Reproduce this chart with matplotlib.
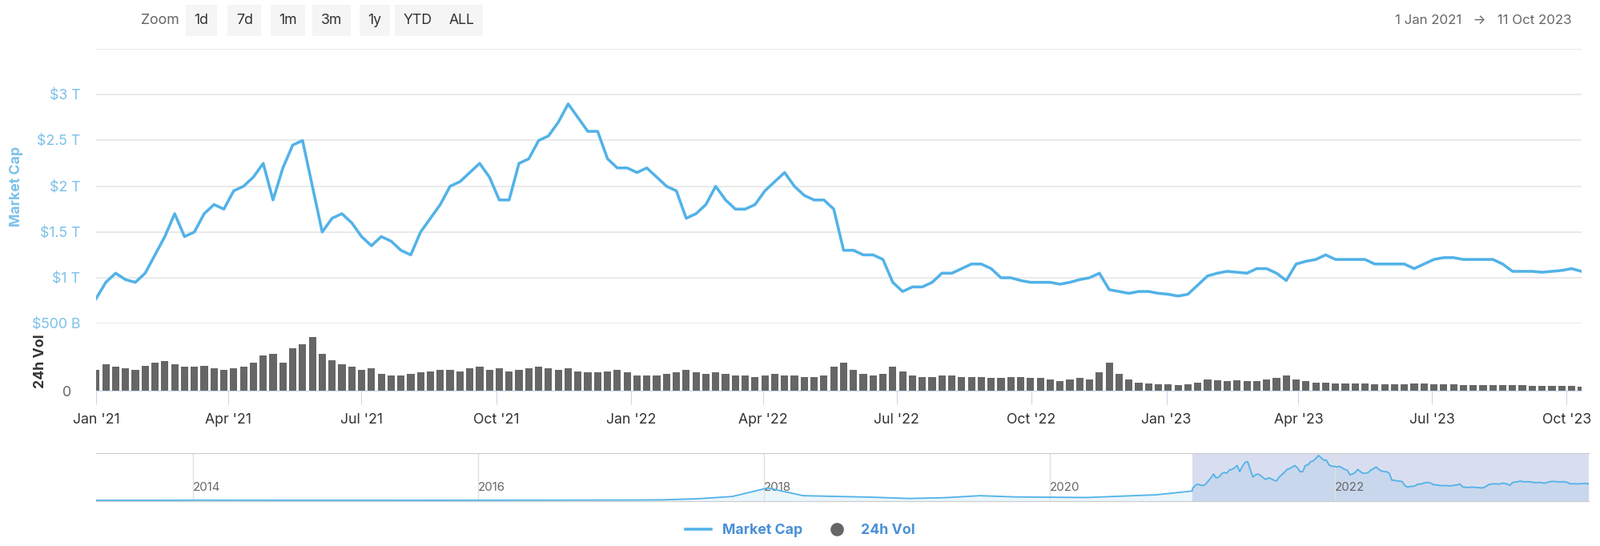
import numpy as np
import pandas as pd
import matplotlib.pyplot as plt
import matplotlib.dates as mdates
from matplotlib.lines import Line2D

plt.rcParams['font.family'] = 'Inter'

# weekly market cap, trillions USD (1 Jan 2021 .. 11 Oct 2023)
mcap = [0.77, 0.95, 1.05, 0.98, 0.95,
        1.05, 1.25, 1.45, 1.70, 1.45,
        1.50, 1.70, 1.80, 1.75, 1.95,
        2.00, 2.10, 2.25, 1.85, 2.20,
        2.45, 2.50, 2.00, 1.50, 1.65,
        1.70, 1.60, 1.45, 1.35,
        1.45, 1.40, 1.30, 1.25, 1.50,
        1.65, 1.80, 2.00, 2.05,
        2.15, 2.25, 2.10, 1.85, 1.85,
        2.25, 2.30, 2.50, 2.55,
        2.70, 2.90, 2.75, 2.60, 2.60,
        2.30, 2.20, 2.20, 2.15, 2.20,
        2.10, 2.00, 1.95, 1.65, 1.70,
        1.80, 2.00, 1.85, 1.75,
        1.75, 1.80, 1.95, 2.05, 2.15,
        2.00, 1.90, 1.85, 1.85,
        1.75, 1.30, 1.30, 1.25, 1.25,
        1.20, 0.95, 0.85, 0.90,
        0.90, 0.95, 1.05, 1.05, 1.10,
        1.15, 1.15, 1.10, 1.00,
        1.00, 0.97, 0.95, 0.95,
        0.95, 0.93, 0.95, 0.98, 1.00,
        1.05, 0.87, 0.85, 0.83,
        0.85, 0.85, 0.83, 0.82, 0.80,
        0.82, 0.92, 1.02, 1.05, 1.07,
        1.06, 1.05, 1.10, 1.10,
        1.05, 0.97, 1.15, 1.18,
        1.20, 1.25, 1.20, 1.20, 1.20,
        1.20, 1.15, 1.15, 1.15,
        1.15, 1.10, 1.15, 1.20,
        1.22, 1.22, 1.20, 1.20, 1.20,
        1.20, 1.15, 1.07, 1.07,
        1.07, 1.06, 1.07, 1.08,
        1.10, 1.07]

# weekly 24h volume, billions USD
vol = [150, 190, 170, 160, 150,
       180, 200, 210, 190, 170,
       170, 180, 160, 150, 160,
       170, 200, 250, 260, 200,
       300, 330, 380, 260, 220,
       190, 170, 150, 160,
       120, 110, 110, 120, 130,
       140, 150, 150, 140,
       160, 170, 150, 160, 140,
       150, 160, 170, 160,
       150, 160, 140, 130, 130,
       140, 150, 130, 110, 110,
       110, 120, 130, 150, 130,
       120, 130, 120, 110,
       110, 100, 110, 120, 110,
       110, 100, 100, 110,
       170, 200, 150, 120, 110,
       120, 170, 140, 110,
       100, 100, 110, 110, 100,
       100, 100, 90, 90,
       100, 100, 90, 90,
       80, 70, 80, 90, 80,
       130, 200, 120, 80,
       60, 50, 45, 45, 40,
       45, 60, 80, 75, 70,
       75, 70, 70, 80,
       90, 110, 80, 70,
       60, 60, 55, 55, 50,
       50, 45, 45, 45,
       45, 50, 50, 45,
       45, 45, 40, 40, 40,
       40, 40, 40, 40,
       35, 35, 35, 35,
       35, 30]

# quarterly history for navigator (trillions)
hist_dates = pd.date_range('2013-04-28', '2020-12-31', periods=32)
hist_mcap = [0.0015, 0.001, 0.002, 0.01, 0.006, 0.008, 0.005, 0.004,
             0.0035, 0.004, 0.004, 0.007, 0.008, 0.011, 0.012, 0.018,
             0.03, 0.10, 0.25, 0.80, 0.30, 0.25, 0.20, 0.12,
             0.17, 0.30, 0.22, 0.20, 0.18, 0.27, 0.36, 0.60]

dates = pd.date_range('2021-01-01', '2023-10-11', periods=len(mcap))
vdates = pd.date_range('2021-01-01', '2023-10-11', periods=len(vol))

blue = '#52b2e8'
lblue = '#7cc0ea'
grid = '#e6e6e6'
K = 1999 / 1568  # reference measured at 1568 x 535


def fx(p):
    return p / 1568


def fy(p):
    return 1 - p / 535


fig = plt.figure(figsize=(19.99, 6.82), dpi=100)
x0, w = fx(94), fx(1549 - 94)
xlim = (pd.Timestamp('2021-01-01'), pd.Timestamp('2023-10-11'))

ax = fig.add_axes([x0, fy(317), w, (317 - 48) / 535])
ax.plot(dates, mcap, color=blue, lw=2 * K)
ax.set_xlim(xlim)
ax.set_ylim(0.5, 3.5)
ax.set_yticks([0.5, 1, 1.5, 2, 2.5, 3])
ax.set_yticklabels(['$500 B', '$1 T', '$1.5 T', '$2 T', '$2.5 T', '$3 T'])
ax.tick_params(axis='y', colors=lblue, labelsize=10 * K, length=0, pad=14)
ax.set_xticks([])
ax.grid(axis='y', color=grid, lw=1.2)
ax.axhline(3.5, color=grid, lw=1.2)
for s in ax.spines.values():
    s.set_visible(False)
ax.set_ylabel('Market Cap', color=lblue, fontsize=10 * K, fontweight='bold', labelpad=8)

vax = fig.add_axes([x0, fy(383), w, 58 / 535])
vax.bar(vdates, vol, width=5, color='#666666')
vax.set_xlim(xlim)
vax.set_ylim(0, 420)
vax.set_yticks([0])
vax.tick_params(axis='y', colors='#666666', labelsize=10 * K, length=0, pad=22)
for s in ['top', 'right', 'left']:
    vax.spines[s].set_visible(False)
vax.spines['bottom'].set_color('#ccd6eb')
vax.xaxis.set_major_locator(mdates.MonthLocator(bymonth=[1, 4, 7, 10]))
vax.xaxis.set_major_formatter(mdates.DateFormatter("%b '%y"))
vax.tick_params(axis='x', colors='#ccd6eb', labelcolor='#333333', labelsize=10 * K, length=12, pad=8)
vax.set_ylabel('24h Vol', color='#333333', fontsize=10 * K, fontweight='bold', labelpad=14)

# navigator
nax = fig.add_axes([x0, fy(491), fx(1556 - 94), 47 / 535])
nd = list(hist_dates) + list(dates)
nv = hist_mcap + mcap
nax.plot(nd, nv, color=blue, lw=1.3)
nax.fill_between(nd, nv, color='#eaf5fc')
nax.set_xlim(pd.Timestamp('2013-04-28'), pd.Timestamp('2023-10-11'))
nax.set_ylim(-0.05, 3.05)
nax.set_yticks([])
nax.xaxis.set_major_locator(mdates.YearLocator(2))
nax.xaxis.set_major_formatter(mdates.DateFormatter('%Y'))
nax.tick_params(axis='x', length=0, labelsize=8.5 * K, labelcolor='#666666', pad=-17)
for lab in nax.get_xticklabels():
    lab.set_horizontalalignment('left')
nax.grid(axis='x', color='#e0e0e0', lw=1)
for s in nax.spines.values():
    s.set_color('#cccccc')
nax.spines['left'].set_visible(False)
nax.spines['right'].set_visible(False)
nax.axvspan(pd.Timestamp('2021-01-01'), pd.Timestamp('2023-10-11'), color='#667fc0', alpha=0.25, lw=0)

# zoom buttons
fig.text(fx(157), fy(20), 'Zoom', fontsize=10 * K, color='#666666', va='center', ha='center')
for i, lbl in enumerate(['1d', '7d', '1m', '3m', '1y', 'YTD', 'ALL']):
    fig.text(fx(197 + i * 42.5), fy(20), lbl, fontsize=10 * K, color='#333333', va='center', ha='center',
             bbox=dict(boxstyle='square,pad=0.6', fc='#f5f5f5', ec='none'))
fig.text(fx(1539), fy(20), '1 Jan 2021   →   11 Oct 2023', fontsize=9.5 * K, color='#666666',
         va='center', ha='right')

handles = [Line2D([0], [0], color=blue, lw=2 * K),
           Line2D([0], [0], marker='o', color='none', markerfacecolor='#666666',
                  markeredgecolor='none', markersize=12)]
leg = fig.legend(handles, ['Market Cap', '24h Vol'], loc='center', bbox_to_anchor=(0.5, fy(520)),
                 ncol=2, frameon=False, fontsize=10 * K, handlelength=1.8, columnspacing=1.5)
for t in leg.get_texts():
    t.set_color('#4a90d6')
    t.set_fontweight('bold')

fig.savefig('out.png', dpi=100)
